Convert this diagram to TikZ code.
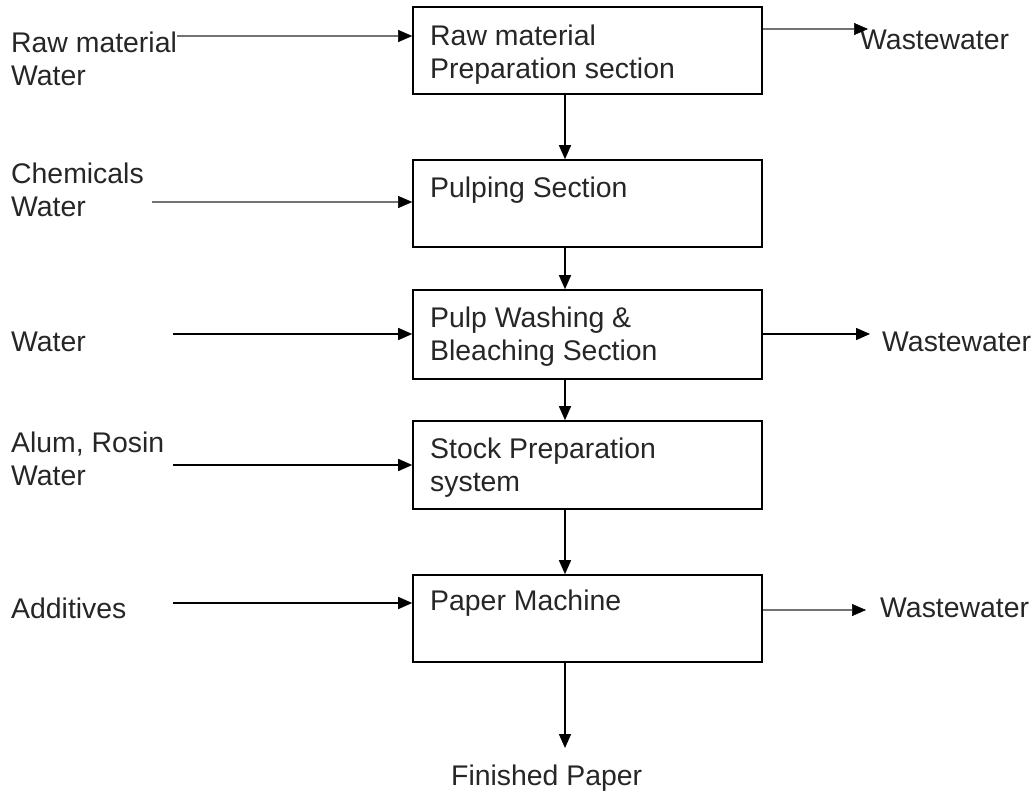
\documentclass[tikz,border=0pt]{standalone}
\usepackage{fontspec}
\setmainfont{Liberation Sans}
\usetikzlibrary{arrows.meta}
\begin{document}
\begin{tikzpicture}[x=1pt,y=-1pt,
  every node/.style={font=\fontsize{28.4}{33}\selectfont, inner sep=0pt},
  box/.style={draw=black, line width=1.6pt, minimum width=349pt, rectangle},
  txt/.style={anchor=north west, align=left, text=black!85},
  arr/.style={draw=black, line width=1.5pt, -{Triangle[length=14pt,width=12pt]}},
  garr/.style={draw=black!55, line width=2.4pt, -{Triangle[length=14pt,width=12pt,color=black,line width=0.5pt]}}]
\useasboundingbox (0,0) rectangle (1036,795);
% boxes
\node[box, minimum height=87pt] (b1) at (587.5,50.5) {};
\node[box, minimum height=87pt] (b2) at (587.5,203.5) {};
\node[box, minimum height=89pt] (b3) at (587.5,334.5) {};
\node[box, minimum height=88pt] (b4) at (587.5,465) {};
\node[box, minimum height=87pt] (b5) at (587.5,618.5) {};
% box texts
\node[txt] (t1) at (430,24.7) {Raw material\\Preparation section};
\node[txt] (t2) at (430,176.7) {Pulping Section};
\node[txt] (t3) at (430,306.7) {Pulp Washing \&\\Bleaching Section};
\node[txt] (t4) at (430,437.7) {Stock Preparation\\system};
\node[txt] (t5) at (430,589.7) {Paper Machine};
% left labels
\node[txt] (l1) at (11,31.7) {Raw material\\Water};
\node[txt] (l2) at (11,162.7) {Chemicals\\Water};
\node[txt] (l3) at (11,331.7) {Water};
\node[txt] (l4) at (11,431.7) {Alum, Rosin\\Water};
\node[txt] (l5) at (11,597.7) {Additives};
% right labels
\node[txt] (w1) at (860,29.7) {Wastewater};
\node[txt] (w2) at (882,331.7) {Wastewater};
\node[txt] (w3) at (880,597.7) {Wastewater};
\node[txt] (fp) at (451,764.7) {Finished Paper};
% coordinates
\coordinate (spine) at (565,0);
\coordinate (i1) at (177,36);
\coordinate (i2) at (152,202);
\coordinate (i3) at (173,334);
\coordinate (i4) at (173,465);
\coordinate (i5) at (173,603);
\coordinate (o1) at (868,29);
\coordinate (o2) at (870,334);
\coordinate (o3) at (866,610);
\coordinate (fin) at (565,748);
% inputs
\draw[garr] (i1) -- (i1 -| b1.west);
\draw[garr] (i2) -- (i2 -| b2.west);
\draw[arr] (i3) -- (i3 -| b3.west);
\draw[arr] (i4) -- (i4 -| b4.west);
\draw[arr] (i5) -- (i5 -| b5.west);
% outputs
\draw[garr] (o1 -| b1.east) -- (o1);
\draw[arr] (o2 -| b3.east) -- (o2);
\draw[garr] (o3 -| b5.east) -- (o3);
% main flow
\draw[arr] (b1.south -| spine) -- (b2.north -| spine);
\draw[arr] (b2.south -| spine) -- (b3.north -| spine);
\draw[arr] (b3.south -| spine) -- (b4.north -| spine);
\draw[arr] (b4.south -| spine) -- (b5.north -| spine);
\draw[arr] (b5.south -| spine) -- (fin);
\end{tikzpicture}
\end{document}
